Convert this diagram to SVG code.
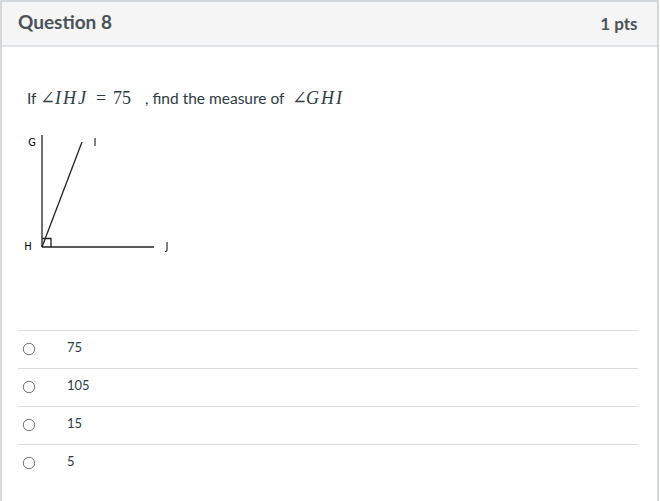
<svg xmlns="http://www.w3.org/2000/svg" width="660" height="501" viewBox="0 0 660 501">
<style>
.hdr{font-family:Lato,"Liberation Sans",sans-serif;font-weight:bold;fill:#4a5258}
.q{font-family:Lato,"Liberation Sans",sans-serif;font-size:15.5px;fill:#2d3b45}
.m{font-family:"Liberation Serif","DejaVu Serif",serif;font-style:italic;font-size:18px;letter-spacing:2px;fill:#2d3b45}
.mn{font-family:"Liberation Serif","DejaVu Serif",serif;font-size:18px;fill:#2d3b45}
.lbl{font-family:"DejaVu Sans","Liberation Sans",sans-serif;font-size:10px;fill:#000}
.geo{stroke:#222;stroke-width:1.3;fill:none}
.opt{font-family:Lato,"Liberation Sans",sans-serif;font-size:13px;fill:#2d3b45}
.sep{stroke:#dcdcdc;stroke-width:1}
.radio{fill:#fff;stroke:#777;stroke-width:1}
</style>
<rect x="0" y="0" width="660" height="501" fill="#fff"/>
<rect x="1" y="1" width="657" height="45" fill="#f5f5f5"/>
<path d="M1 501 V1 H658 V501" fill="none" stroke="#c7cdd1" stroke-width="1.5"/>
<line x1="1" y1="46" x2="658" y2="46" stroke="#c7cdd1" stroke-width="1.2"/>
<text class="hdr" x="18" y="29" font-size="19">Question 8</text>
<text class="hdr" x="637.5" y="30" font-size="17" text-anchor="end">1 pts</text>
<text y="104"><tspan class="q" x="27">If</tspan><tspan class="mn" x="40">∠</tspan><tspan class="m" x="55">IHJ</tspan><tspan class="mn" x="96">=</tspan><tspan class="mn" x="113">75</tspan><tspan class="q" x="145">, find the measure of</tspan><tspan class="mn" x="292">∠</tspan><tspan class="m" x="306">GHI</tspan></text>
<g id="figure">
<g id="connectors">
<line class="geo" x1="42" y1="135" x2="42" y2="247"/>
<line class="geo" x1="42" y1="247" x2="154" y2="247"/>
<line class="geo" x1="42" y1="247" x2="82" y2="142"/>
<path class="geo" d="M42 238.5 H51 V247"/>
</g>
<g id="node-G"><text class="lbl" x="32" y="146" text-anchor="middle">G</text></g>
<g id="node-I"><text class="lbl" x="95" y="146" text-anchor="middle">I</text></g>
<g id="node-H"><text class="lbl" x="28" y="250" text-anchor="middle">H</text></g>
<g id="node-J"><text class="lbl" x="167" y="250" text-anchor="middle">J</text></g>
</g>
<g id="options">
<line class="sep" x1="18" y1="330.5" x2="638" y2="330.5"/>
<line class="sep" x1="18" y1="368.5" x2="638" y2="368.5"/>
<line class="sep" x1="18" y1="406.5" x2="638" y2="406.5"/>
<line class="sep" x1="18" y1="444.5" x2="638" y2="444.5"/>
<circle class="radio" cx="29" cy="349" r="5.7"/>
<circle class="radio" cx="29" cy="387" r="5.7"/>
<circle class="radio" cx="29" cy="425" r="5.7"/>
<circle class="radio" cx="29" cy="463" r="5.7"/>
<text class="opt" x="67" y="352">75</text>
<text class="opt" x="67" y="390">105</text>
<text class="opt" x="67" y="428">15</text>
<text class="opt" x="67" y="466">5</text>
</g>
</svg>
